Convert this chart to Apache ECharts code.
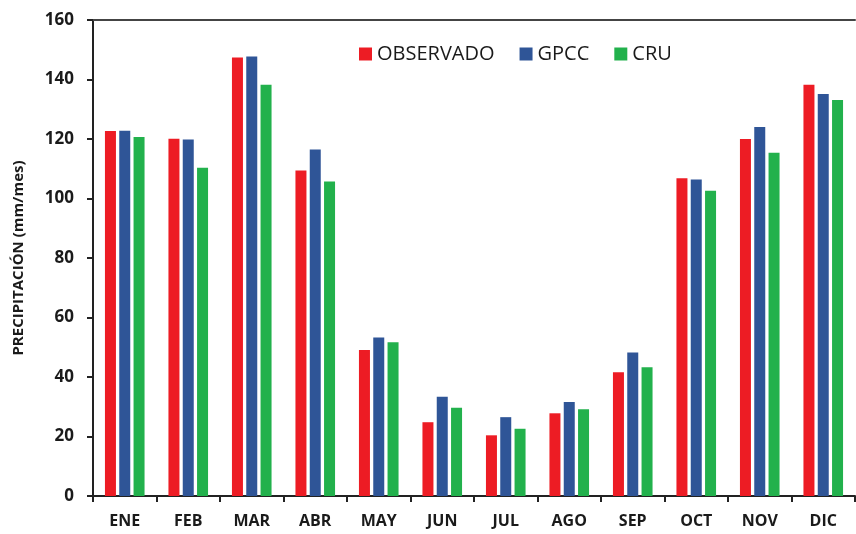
<!DOCTYPE html>
<html>
<head>
<meta charset="utf-8">
<script src="https://cdn.jsdelivr.net/npm/echarts@6/dist/echarts.min.js"></script>
<style>
  html, body { margin: 0; padding: 0; background: #fff; }
  #chart { width: 856px; height: 534px; }
</style>
</head>
<body>
<div id="chart"></div>
<script>
// meses
var months = ['ENE', 'FEB', 'MAR', 'ABR', 'MAY', 'JUN', 'JUL', 'AGO', 'SEP', 'OCT', 'NOV', 'DIC'];
var observado = [122.7, 120.1, 147.4, 109.4, 49.1, 24.8, 20.4, 27.8, 41.6, 106.8, 120.0, 138.2];
var gpcc = [122.8, 119.8, 147.7, 116.5, 53.3, 33.4, 26.5, 31.6, 48.2, 106.4, 124.0, 135.1];
var cru = [120.7, 110.3, 138.2, 105.7, 51.7, 29.7, 22.6, 29.2, 43.3, 102.6, 115.4, 133.1];
var yTicks = [0, 20, 40, 60, 80, 100, 120, 140, 160];

var myChart = echarts.init(document.getElementById('chart'));

function barSerie(name, data, color) {
    return {
        name: name,
        type: 'bar',
        data: data,
        barWidth: 11,
        barGap: '30%',
        itemStyle: { color: color },
        xAxisIndex: 0
    };
}

var option = {
    animation: false,
    backgroundColor: '#fff',
    textStyle: { fontFamily: 'Open Sans, sans-serif' },
    grid: { left: 93, right: 1, top: 20, bottom: 38 },
    legend: {
        top: 39,
        left: 354,
        itemWidth: 13,
        itemHeight: 13,
        itemGap: 25,
        icon: 'rect',
        textStyle: { fontSize: 20, color: '#1a1a1a', fontFamily: 'Open Sans, sans-serif' },
        data: ['OBSERVADO', 'GPCC', 'CRU']
    },
    xAxis: [{
        type: 'category',
        data: months,
        axisLine: { lineStyle: { color: '#222', width: 2 } },
        axisTick: { show: true, length: 6, lineStyle: { color: '#222', width: 2 } },
        axisLabel: { fontSize: 16, fontWeight: 'bold', color: '#1a1a1a', margin: 17 }
    }, {
        // linea superior del marco
        type: 'category',
        position: 'top',
        data: months,
        axisLine: { lineStyle: { color: '#444', width: 2 } },
        axisTick: { show: false },
        axisLabel: { show: false }
    }],
    yAxis: {
        type: 'value',
        min: yTicks[0],
        max: yTicks[yTicks.length - 1],
        interval: 20,
        name: 'PRECIPITACIÓN (mm/mes)',
        nameLocation: 'middle',
        nameGap: 67,
        nameTextStyle: { fontSize: 15, fontWeight: 'bold', color: '#1a1a1a' },
        axisLine: { show: true, lineStyle: { color: '#222', width: 2 } },
        axisTick: { show: true, length: 6, lineStyle: { color: '#222', width: 2 } },
        axisLabel: { fontSize: 17, fontWeight: 'bold', color: '#1a1a1a', margin: 19 },
        splitLine: { show: false }
    },
    series: [
        barSerie('OBSERVADO', observado, '#ED1C24'),
        barSerie('GPCC', gpcc, '#2F5597'),
        barSerie('CRU', cru, '#22B14C')
    ]
};
myChart.setOption(option);
</script>
</body>
</html>
